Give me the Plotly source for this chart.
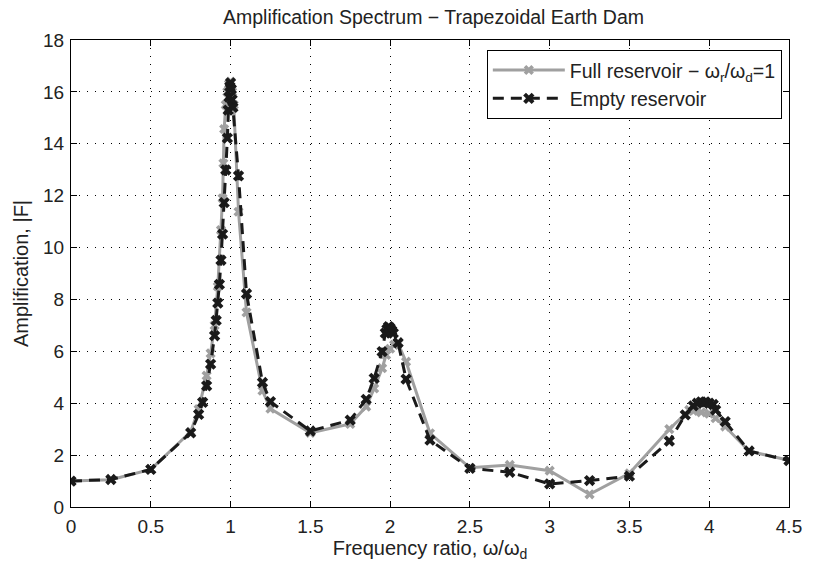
import plotly.graph_objects as go

# Empty reservoir (black dashed)
x_empty = [0, 0.25, 0.5, 0.75, 0.8, 0.825, 0.85, 0.875, 0.9, 0.91, 0.92, 0.93, 0.94, 0.95,
           0.96, 0.97, 0.98, 0.985, 0.99, 0.995, 1.0, 1.005, 1.01, 1.015, 1.05, 1.1, 1.2,
           1.25, 1.5, 1.75, 1.85, 1.9, 1.95, 1.97, 1.98, 1.99, 2.0, 2.01, 2.02, 2.05, 2.1,
           2.25, 2.5, 2.75, 3.0, 3.25, 3.5, 3.75, 3.85, 3.9, 3.925, 3.95, 3.975, 4.0, 4.025,
           4.04, 4.1, 4.25, 4.5]
y_empty = [1.0, 1.06, 1.45, 2.86, 3.57, 4.03, 4.67, 5.51, 6.6, 7.19, 7.86, 8.58, 9.51, 10.52,
           11.73, 12.99, 14.22, 15.3, 15.8, 16.2, 16.35, 16.1, 15.7, 15.4, 12.76, 8.22, 4.8,
           4.06, 2.93, 3.35, 4.15, 4.96, 5.99, 6.7, 6.85, 6.95, 6.9, 6.8, 6.7, 6.33, 4.93,
           2.58, 1.49, 1.34, 0.89, 1.02, 1.19, 2.54, 3.55, 3.9, 4.0, 4.05, 4.05, 4.0, 3.95,
           3.74, 3.29, 2.16, 1.79]

# Full reservoir (gray solid)
x_full = [0, 0.25, 0.5, 0.75, 0.8, 0.85, 0.875, 0.9, 0.92, 0.94, 0.95, 0.955, 0.96, 0.97,
          0.98, 0.99, 1.0, 1.01, 1.02, 1.05, 1.1, 1.2, 1.25, 1.5, 1.75, 1.85, 1.9, 1.95,
          1.975, 2.0, 2.025, 2.05, 2.1, 2.25, 2.5, 2.75, 3.0, 3.25, 3.5, 3.75, 3.875, 3.9,
          3.95, 4.0, 4.04, 4.1, 4.25, 4.5]
y_full = [1.0, 1.05, 1.45, 2.9, 3.77, 5.06, 5.92, 7.0, 8.5, 10.67, 11.9, 13.25, 14.57, 15.5,
          16.0, 16.3, 16.4, 16.0, 15.5, 11.38, 7.5, 4.48, 3.79, 2.86, 3.2, 3.87, 4.57, 5.35,
          5.86, 6.1, 6.25, 6.3, 5.6, 2.84, 1.51, 1.62, 1.40, 0.49, 1.30, 3.0, 3.74, 3.7,
          3.65, 3.6, 3.42, 3.1, 2.15, 1.8]

x_ticks = [0, 0.5, 1, 1.5, 2, 2.5, 3, 3.5, 4, 4.5]
x_tick_labels = ["0", "0.5", "1", "1.5", "2", "2.5", "3", "3.5", "4", "4.5"]
y_ticks = [0, 2, 4, 6, 8, 10, 12, 14, 16, 18]

FONT = "Arial, Liberation Sans, Helvetica, sans-serif"
GRAY = "#a0a0a0"
TXT = "#222222"

W, H = 814, 571
L, R, T, B = 71, 18, 40, 64

fig = go.Figure()
fig.add_trace(go.Scatter(
    x=x_full, y=y_full, mode="lines+markers",
    name="Full reservoir − ω<sub>r</sub>/ω<sub>d</sub>=1",
    line=dict(color=GRAY, width=3),
    marker=dict(symbol="x", size=9, color=GRAY, line=dict(width=0)),
))
fig.add_trace(go.Scatter(
    x=x_empty, y=y_empty, mode="lines+markers",
    name="Empty reservoir",
    line=dict(color="#1a1a1a", width=3, dash="11px,7px"),
    marker=dict(symbol="x", size=10, color="#1a1a1a", line=dict(width=0)),
))

axis_common = dict(
    showline=True, linecolor="black", linewidth=1, mirror="ticks",
    ticks="inside", ticklen=6, tickcolor="black",
    showgrid=True, gridcolor="#000000", griddash="1px,7px", gridwidth=1,
    zeroline=False,
    tickfont=dict(family=FONT, size=19, color=TXT),
)

fig.update_layout(
    width=W, height=H,
    margin=dict(l=L, r=R, t=T, b=B),
    paper_bgcolor="white", plot_bgcolor="white",
    font=dict(family=FONT, size=19, color=TXT),
    title=dict(text="Amplification Spectrum − Trapezoidal Earth Dam",
               x=(L + (W - R)) / 2 / W, xanchor="center",
               y=1 - 17 / H, yanchor="middle", yref="container",
               pad=dict(t=0, b=0),
               font=dict(family=FONT, size=19.5, color=TXT)),
    xaxis=dict(range=[0, 4.5], tickvals=x_ticks, ticktext=x_tick_labels,
               ticklabelstandoff=2,
               title=dict(text="Frequency ratio, ω/ω<sub>d</sub>", standoff=4,
                          font=dict(family=FONT, size=20)),
               **axis_common),
    yaxis=dict(range=[0, 18], tickvals=y_ticks, ticklabelstandoff=2,
               title=dict(text="Amplification, |F|", standoff=9,
                          font=dict(family=FONT, size=20)),
               **axis_common),
    legend=dict(x=0.99, y=0.979, xanchor="right", yanchor="top",
                bgcolor="white", bordercolor="black", borderwidth=1,
                font=dict(family=FONT, size=19.5, color=TXT),
                itemwidth=72, tracegroupgap=0),
    showlegend=True,
)

# remove the default 8px page margin so the figure fills the window exactly
fig.write_html("out.html",
               config={"displayModeBar": False},
               post_script="document.body.style.margin='0';"
                           "document.body.style.overflow='hidden';")
